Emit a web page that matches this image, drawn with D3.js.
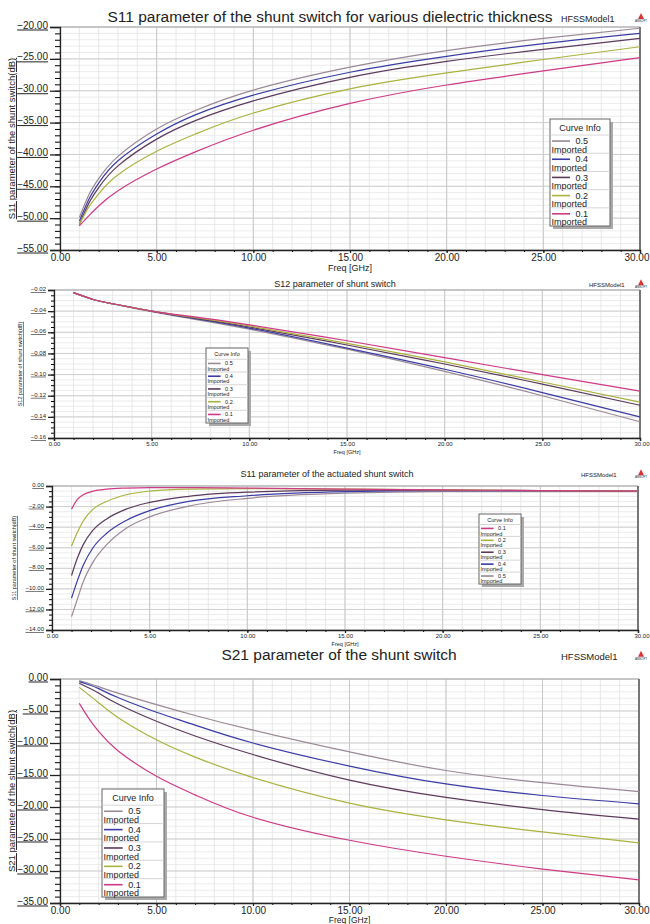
<!DOCTYPE html>
<html>
<head>
<meta charset="utf-8">
<script src="https://cdn.jsdelivr.net/npm/d3@7"></script>
<style>
body { margin: 0; background: #fff; }
text { font-family: "Liberation Sans", Arial, sans-serif; fill: #222; }
</style>
</head>
<body>
<script>
const width = 650;
const height = 924;

// thickness of the dielectric (legend entries)
const thickness = ["0.5", "0.4", "0.3", "0.2", "0.1"];
const colors = ["#9a8896", "#3b3ba6", "#5c3a5c", "#aab23e", "#cf3a86"];

// frequency points (GHz)
const freq = [1, 1.5, 2, 3, 5, 7, 10, 15, 20, 25, 30];
const freqS12 = [1, 2, 3, 5, 7, 10, 15, 20, 25, 30];
const freqAct = [1, 1.3, 1.6, 2.1, 2.8, 3.8, 5, 7, 10, 15, 20, 25, 30];

// S11 of unactuated switch (dB), order 0.5 .. 0.1
const s11Off = [
	[-49.9, -46.3, -43.8, -40.3, -36.0, -33.1, -29.9, -26.3, -23.7, -21.8, -20.2],
	[-50.5, -47.0, -44.5, -41.0, -36.8, -33.8, -30.7, -27.1, -24.6, -22.6, -21.0],
	[-51.0, -47.6, -45.2, -41.8, -37.6, -34.7, -31.6, -27.9, -25.4, -23.5, -21.8],
	[-51.0, -48.2, -46.2, -43.2, -39.5, -36.8, -33.5, -29.7, -27.2, -25.1, -23.1],
	[-51.2, -49.6, -48.1, -45.7, -42.3, -39.6, -36.2, -32.0, -29.1, -26.9, -24.8]
];

// S12 of shunt switch (dB)
const s12 = [
	[-0.0225, -0.029, -0.033, -0.0405, -0.047, -0.057, -0.076, -0.097, -0.120, -0.1446],
	[-0.0225, -0.029, -0.033, -0.040, -0.0465, -0.056, -0.075, -0.095, -0.117, -0.140],
	[-0.0225, -0.029, -0.033, -0.040, -0.046, -0.055, -0.072, -0.090, -0.109, -0.129],
	[-0.0225, -0.029, -0.033, -0.040, -0.0455, -0.054, -0.0705, -0.088, -0.107, -0.126],
	[-0.0225, -0.029, -0.033, -0.040, -0.045, -0.053, -0.068, -0.084, -0.100, -0.1156]
];

// S11 of actuated switch (dB)
const s11On = [
	[-12.7, -11.0, -9.3, -7.4, -5.7, -4.1, -3.0, -1.95, -1.2, -0.7, -0.55, -0.55, -0.55],
	[-10.9, -9.2, -7.7, -6.0, -4.6, -3.35, -2.4, -1.5, -0.95, -0.55, -0.45, -0.45, -0.5],
	[-8.7, -7.0, -5.7, -4.3, -3.2, -2.25, -1.6, -1.0, -0.6, -0.4, -0.4, -0.45, -0.5],
	[-5.85, -4.5, -3.4, -2.25, -1.5, -0.85, -0.5, -0.3, -0.25, -0.3, -0.38, -0.45, -0.5],
	[-2.25, -1.3, -0.85, -0.5, -0.3, -0.2, -0.15, -0.15, -0.2, -0.3, -0.38, -0.45, -0.5]
];

// S21 of shunt switch (dB)
const s21 = [
	[-0.26, -0.7, -1.2, -2.2, -4.0, -5.7, -8.0, -11.4, -14.3, -16.2, -17.6],
	[-0.4, -0.9, -1.5, -2.9, -5.2, -7.2, -10.0, -13.6, -16.4, -18.2, -19.5],
	[-0.67, -1.4, -2.2, -3.9, -6.6, -8.9, -11.8, -15.8, -18.5, -20.4, -21.9],
	[-1.3, -2.5, -3.7, -6.0, -9.5, -12.2, -15.4, -19.4, -22.0, -23.9, -25.6],
	[-3.8, -6.2, -8.2, -11.2, -15.2, -18.1, -21.6, -25.2, -27.7, -29.7, -31.4]
];

const svg = d3.select("body")
	.append("svg")
	.attr("width", width)
	.attr("height", height);

function drawPanel(p) {
	const g = svg.append("g");
	const x = d3.scaleLinear().domain([0, 30]).range([p.left, p.right]);
	const y = d3.scaleLinear().domain(p.yDomain).range([p.bottom, p.top]);
	const eps = 1e-9;

	// grid
	const yMinor = d3.range(p.yDomain[0], p.yDomain[1] + eps, p.yMinor);
	const yMajor = d3.range(p.yDomain[0], p.yDomain[1] + eps, p.yStep);
	g.selectAll(".hmin").data(yMinor).enter().append("line")
		.attr("x1", p.left).attr("x2", p.right)
		.attr("y1", d => y(d)).attr("y2", d => y(d))
		.attr("stroke", "#e6e6e6").attr("stroke-width", 0.8);
	g.selectAll(".vmin").data(d3.range(0, 31, 1)).enter().append("line")
		.attr("x1", d => x(d)).attr("x2", d => x(d))
		.attr("y1", p.top).attr("y2", p.bottom)
		.attr("stroke", "#e2e2e2").attr("stroke-width", 0.8);
	g.selectAll(".hmaj").data(yMajor).enter().append("line")
		.attr("x1", p.left).attr("x2", p.right)
		.attr("y1", d => y(d)).attr("y2", d => y(d))
		.attr("stroke", "#cfcfcf").attr("stroke-width", 1);
	g.selectAll(".vmaj").data(d3.range(0, 31, 5)).enter().append("line")
		.attr("x1", d => x(d)).attr("x2", d => x(d))
		.attr("y1", p.top).attr("y2", p.bottom)
		.attr("stroke", "#c8c8c8").attr("stroke-width", 1);

	// frame
	g.append("line").attr("x1", p.left).attr("x2", p.right)
		.attr("y1", p.top).attr("y2", p.top).attr("stroke", "#aaa");
	g.append("line").attr("x1", p.right).attr("x2", p.right)
		.attr("y1", p.top).attr("y2", p.bottom).attr("stroke", "#555").attr("stroke-width", 1.5);

	// curves
	const line = d3.line()
		.x((d, i) => x(p.freq[i]))
		.y(d => y(d))
		.curve(p.curve);
	g.selectAll(".curve").data(p.series).enter().append("path")
		.attr("d", line)
		.attr("fill", "none")
		.attr("stroke", (d, i) => colors[i])
		.attr("stroke-width", 1.2);

	// axes
	const yAxisMinor = d3.axisLeft(y).tickValues(yMinor).tickSize(p.minorTick).tickFormat("");
	g.append("g").attr("transform", `translate(${p.left},0)`).call(yAxisMinor)
		.call(a => a.select(".domain").remove());
	const yAxis = d3.axisLeft(y).tickValues(yMajor).tickFormat(d3.format(p.yFmt))
		.tickSize(p.majorTick).tickPadding(2);
	const ya = g.append("g").attr("transform", `translate(${p.left},0)`).call(yAxis);
	ya.selectAll("text")
		.style("font-size", p.fs + "px")
		.style("text-decoration", "underline")
		.attr("dy", "0.1em");
	ya.selectAll("line, path").attr("stroke", "#222").attr("stroke-width", 1.3);

	const xAxisMinor = d3.axisBottom(x).tickValues(d3.range(0, 31, 1)).tickSize(2).tickFormat("");
	g.append("g").attr("transform", `translate(0,${p.bottom})`).call(xAxisMinor)
		.call(a => a.select(".domain").remove());
	const xAxis = d3.axisBottom(x).tickValues(d3.range(0, 31, 5))
		.tickFormat(d3.format(".2f")).tickSize(3).tickPadding(1);
	const xa = g.append("g").attr("transform", `translate(0,${p.bottom})`).call(xAxis);
	xa.selectAll("text").style("font-size", p.fs + "px");
	// last label sits against the right edge of the page
	xa.selectAll(".tick").filter(d => d === 30).select("text")
		.attr("text-anchor", "end").attr("x", width - 1 - p.right);
	xa.selectAll("line, path").attr("stroke", "#222").attr("stroke-width", 1.3);

	// titles
	g.append("text")
		.attr("x", (p.left + p.right) / 2)
		.attr("y", p.bottom + p.freqDy)
		.attr("text-anchor", "middle")
		.style("font-size", p.freqFs + "px")
		.text("Freq [GHz]");
	g.append("text")
		.attr("transform", `translate(${p.yTitleX},${(p.top + p.bottom) / 2}) rotate(-90)`)
		.attr("text-anchor", "middle")
		.style("font-size", p.yTitleFs + "px")
		.style("text-decoration", "underline")
		.text(p.yTitle);
	g.append("text")
		.attr("x", p.titleX)
		.attr("y", p.titleY)
		.attr("text-anchor", "middle")
		.style("font-size", p.titleFs + "px")
		.text(p.title);
	g.append("text")
		.attr("x", p.modelX)
		.attr("y", p.titleY)
		.style("font-size", p.modelFs + "px")
		.text("HFSSModel1");
	// small ansoft logo
	const lx = 641, ly = p.titleY - p.modelFs * 0.45;
	g.append("path")
		.attr("d", `M${lx - 3},${ly + 1}L${lx},${ly - 5}L${lx + 3},${ly + 1}Z`)
		.attr("fill", "#d33");
	g.append("text")
		.attr("x", lx).attr("y", ly + 4)
		.attr("text-anchor", "middle")
		.style("font-size", "3px")
		.text("ANSOFT");

	// legend
	const L = p.legend;
	const titleH = L.h * 0.15;
	const rowH = (L.h - titleH) / 5;
	g.append("rect").attr("x", L.x + 3).attr("y", L.y + 3)
		.attr("width", L.w).attr("height", L.h).attr("fill", "#aaa");
	g.append("rect").attr("x", L.x).attr("y", L.y)
		.attr("width", L.w).attr("height", L.h)
		.attr("fill", "#fff").attr("stroke", "#666").attr("stroke-width", 1);
	g.append("text")
		.attr("x", L.x + L.w / 2).attr("y", L.y + titleH * 0.72)
		.attr("text-anchor", "middle")
		.style("font-size", L.fs + "px")
		.text("Curve Info");
	const rows = g.selectAll(".leg").data(L.order).enter().append("g")
		.attr("transform", (d, i) => `translate(${L.x},${L.y + titleH + i * rowH})`);
	rows.append("line")
		.attr("x1", 0).attr("x2", L.w)
		.attr("y1", 0).attr("y2", 0)
		.attr("stroke", "#ccc").attr("stroke-width", 0.8);
	rows.append("line")
		.attr("x1", 2).attr("x2", 2 + L.w * 0.3)
		.attr("y1", rowH * 0.33).attr("y2", rowH * 0.33)
		.attr("stroke", d => colors[d]).attr("stroke-width", 1.6);
	rows.append("text")
		.attr("x", 4 + L.w * 0.36).attr("y", rowH * 0.33 + L.fs * 0.35)
		.style("font-size", L.fs + "px")
		.text(d => thickness[d]);
	rows.append("text")
		.attr("x", 1.5).attr("y", rowH * 0.33 + L.fs * 1.3)
		.style("font-size", L.fs + "px")
		.text("Imported");
}

drawPanel({
	left: 60, right: 640, top: 27, bottom: 250,
	yDomain: [-55, -20], yStep: 5, yMinor: 1, yFmt: ".2f",
	freq: freq, series: s11Off, curve: d3.curveNatural,
	fs: 10, majorTick: 10, minorTick: 5, freqDy: 20.5, freqFs: 9,
	title: "S11 parameter of the shunt switch for various dielectric thickness",
	titleX: 330, titleY: 22, titleFs: 15.5, modelX: 561, modelFs: 9,
	yTitle: "S11 parameter of the shunt switch(dB)", yTitleX: 15, yTitleFs: 9.5,
	legend: { x: 550, y: 119, w: 60, h: 107, fs: 9, order: [0, 1, 2, 3, 4] }
});

drawPanel({
	left: 54, right: 640, top: 290, bottom: 438,
	yDomain: [-0.16, -0.02], yStep: 0.02, yMinor: 0.005, yFmt: ".2f",
	freq: freqS12, series: s12, curve: d3.curveNatural,
	fs: 6, majorTick: 6, minorTick: 3, freqDy: 16, freqFs: 5.5,
	title: "S12 parameter of shunt switch",
	titleX: 335, titleY: 287, titleFs: 9, modelX: 589, modelFs: 6,
	yTitle: "S12 parameter of shunt switch(dB)", yTitleX: 22, yTitleFs: 5.5,
	legend: { x: 206, y: 348, w: 42, h: 75, fs: 5.5, order: [0, 1, 2, 3, 4] }
});

drawPanel({
	left: 52, right: 638, top: 486, bottom: 630,
	yDomain: [-14, 0], yStep: 2, yMinor: 0.5, yFmt: ".2f",
	freq: freqAct, series: s11On, curve: d3.curveMonotoneX,
	fs: 6, majorTick: 6, minorTick: 3, freqDy: 16, freqFs: 5.5,
	title: "S11 parameter of the actuated shunt switch",
	titleX: 327, titleY: 477, titleFs: 9, modelX: 581, modelFs: 6,
	yTitle: "S11 parameter of shunt switch(dB)", yTitleX: 16, yTitleFs: 5.5,
	legend: { x: 479, y: 514, w: 42, h: 70, fs: 5.5, order: [4, 3, 2, 1, 0] }
});

drawPanel({
	left: 60, right: 639, top: 679, bottom: 903,
	yDomain: [-35, 0], yStep: 5, yMinor: 1, yFmt: ".2f",
	freq: freq, series: s21, curve: d3.curveNatural,
	fs: 10, majorTick: 10, minorTick: 5, freqDy: 19.5, freqFs: 8.5,
	title: "S21 parameter of the shunt switch",
	titleX: 339, titleY: 660, titleFs: 15.5, modelX: 561, modelFs: 9.5,
	yTitle: "S21 parameter of the shunt switch(dB)", yTitleX: 15, yTitleFs: 9.5,
	legend: { x: 102, y: 789, w: 62, h: 108, fs: 9, order: [0, 1, 2, 3, 4] }
});
</script>
</body>
</html>
